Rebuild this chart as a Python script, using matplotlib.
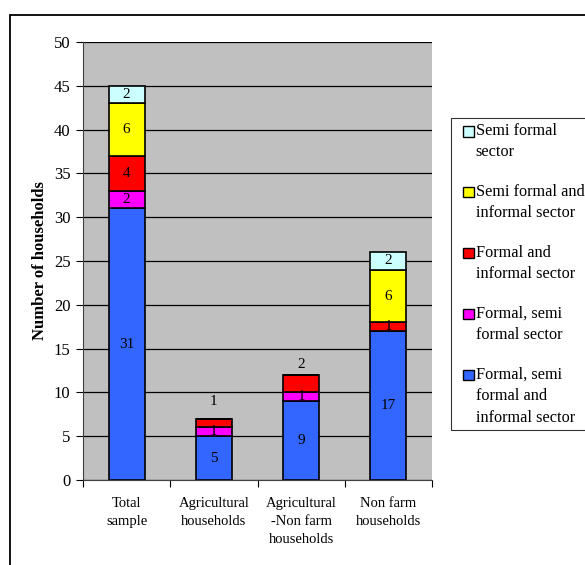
import matplotlib
matplotlib.use("Agg")
import matplotlib.pyplot as plt
import numpy as np
from matplotlib.patches import Rectangle
from matplotlib.legend_handler import HandlerPatch

plt.rcParams['font.family'] = ['Liberation Serif', 'DejaVu Serif']

categories = ["Total\nsample", "Agricultural\nhouseholds", "Agricultural\n-Non farm\nhouseholds", "Non farm\nhouseholds"]
series_names = ["Formal, semi\nformal and\ninformal sector",
                "Formal, semi\nformal sector",
                "Formal and\ninformal sector",
                "Semi formal and\ninformal sector",
                "Semi formal\nsector"]
fsi = [31, 5, 9, 17]
fs = [2, 1, 1, 0]
fi = [4, 1, 2, 1]
si = [6, 0, 0, 6]
s = [2, 0, 0, 2]
series = [fsi, fs, fi, si, s]
colors = ["#3366FF", "#FF00FF", "#FF0000", "#FFFF00", "#CCFFFF"]

fig = plt.figure(figsize=(5.85, 5.65), dpi=100)
fig.patches.append(Rectangle((10/585, -0.05), 1.0, 1.05 - 15/565, transform=fig.transFigure,
                             fill=False, edgecolor='black', linewidth=1.3, clip_on=False))
ax = fig.add_axes([83/585, 1 - 480/565, (432-83)/585, (480-42)/565])
ax.set_facecolor("#C0C0C0")
x = np.arange(len(categories))
bottom = np.zeros(len(categories))
for vals, col, name in zip(series, colors, series_names):
    ax.bar(x, vals, width=0.41, bottom=bottom, color=col, edgecolor='black', linewidth=1.2,
           zorder=3)
    for i, v in enumerate(vals):
        if v > 0:
            yc = bottom[i] + v / 2
            # labels that do not fit are drawn above the bar
            if col == "#FF0000" and i in (1, 2):
                yc = bottom[i] + v + (2.0 if v == 1 else 1.2)
            ax.text(x[i], yc, str(v), ha='center', va='center', fontsize=11, zorder=4)
    bottom += np.array(vals)

ax.set_ylim(0, 50)
ax.set_xlim(-0.5, 3.5)
ax.set_yticks(np.arange(0, 51, 5))
ax.yaxis.grid(True, color='black', linewidth=0.9, zorder=1)
ax.set_axisbelow(True)
ax.set_xticks(np.arange(-0.5, 4, 1), minor=False)
ax.set_xticklabels([])
ax.set_xticks(x, minor=True)
ax.set_xticklabels(categories, minor=True, fontsize=10.5, linespacing=1.5)
ax.tick_params(axis='x', which='minor', length=0, pad=12)
ax.tick_params(axis='x', which='major', length=5, direction='out')
ax.tick_params(axis='y', labelsize=12, length=5, direction='out', pad=4)
for sp in ['top', 'right']:
    ax.spines[sp].set_visible(False)
ax.spines['left'].set_color('#404040')
ax.spines['bottom'].set_color('#404040')
ax.set_ylabel("Number of households", fontsize=12, fontweight='bold', labelpad=4)

# legend with squares aligned to the first text line
leg_fs = 11.7
leg_ls = 1.45
renderer = fig.canvas.get_renderer()
t1 = fig.text(0, 0, "A", fontsize=leg_fs, linespacing=leg_ls)
t2 = fig.text(0, 0, "A\nA", fontsize=leg_fs, linespacing=leg_ls)
lsp_pt = (t2.get_window_extent(renderer).height - t1.get_window_extent(renderer).height) * 72 / fig.dpi
t1.remove(); t2.remove()

proxies = []
nlines = {}
for col, name in zip(colors, series_names):
    p = Rectangle((0, 0), 1, 1, facecolor=col, edgecolor='black', linewidth=1.0)
    proxies.append(p)
    nlines[p] = name.count("\n") + 1

sq = 0.66 * leg_fs  # square side in points

def make_square(legend, orig_handle, xdescent, ydescent, width, height, fontsize):
    n = nlines.get(orig_handle, 1)
    y0 = -ydescent + height / 2 - sq / 2 + (n - 1) / 2 * lsp_pt
    return Rectangle((-xdescent + width - sq, y0), sq, sq)

handler = HandlerPatch(patch_func=make_square)
hs = proxies[::-1]
ls_ = series_names[::-1]
leg = fig.legend(hs, ls_, loc='upper left', bbox_to_anchor=(451/585, 1 - 118/565),
                 fontsize=leg_fs, frameon=True, fancybox=False, edgecolor='black',
                 handlelength=1.1, handleheight=0.66, handletextpad=0.12, labelspacing=1.45,
                 borderpad=0.3, borderaxespad=0, handler_map={h: handler for h in hs})
leg.get_frame().set_linewidth(0.8)
for t in leg.get_texts():
    t.set_linespacing(leg_ls)

fig.savefig("out.png", dpi=100)
